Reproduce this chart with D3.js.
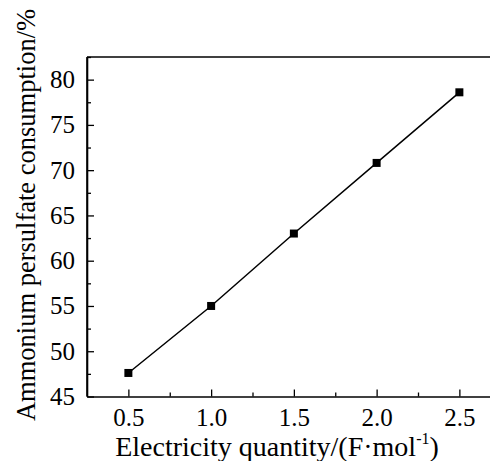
<!DOCTYPE html>
<html>
<head>
<meta charset="utf-8">
<script src="https://cdn.jsdelivr.net/npm/d3@7"></script>
<style>
  body { margin: 0; background: #fff; }
  svg text { font-family: "Liberation Serif", "Times New Roman", serif; fill: #000; }
</style>
</head>
<body>
<div id="chart"></div>
<script>
// data
const electricity = [0.5, 1.0, 1.5, 2.0, 2.5];
const consumption = [47.6, 55.0, 63.0, 70.8, 78.6];
const xTicks = [0.5, 1.0, 1.5, 2.0, 2.5];
const yTicks = [45, 50, 55, 60, 65, 70, 75, 80];

const width = 490, height = 461;
const mLeft = 87, mTop = 57, mBottom = 396.5;
const serif = "Liberation Serif, Times New Roman, serif";

const svg = d3.select("#chart").append("svg")
    .attr("width", width)
    .attr("height", height);

// x axis runs past the right edge of the picture, like the original crop
const x = d3.scaleLinear().domain([0.25, 2.75]).range([mLeft, mLeft + 5 * 82.75]);
const y = d3.scaleLinear().domain([45, 82.5]).range([mBottom, mTop]);

// bottom axis, ticks pointing in
svg.append("g")
    .attr("transform", `translate(0,${mBottom})`)
    .call(d3.axisBottom(x).tickValues(xTicks).tickFormat(d3.format(".1f"))
        .tickSizeInner(-7).tickSizeOuter(0).tickPadding(12));

const xMinor = svg.append("g")
    .attr("transform", `translate(0,${mBottom})`)
    .call(d3.axisBottom(x).tickValues([0.75, 1.25, 1.75, 2.25, 2.75])
        .tickFormat("").tickSizeInner(-4).tickSizeOuter(0));
xMinor.select(".domain").remove();

svg.append("g")
    .attr("transform", `translate(${mLeft},0)`)
    .call(d3.axisLeft(y).tickValues(yTicks)
        .tickSizeInner(-7).tickSizeOuter(0).tickPadding(12));

const yMinor = svg.append("g")
    .attr("transform", `translate(${mLeft},0)`)
    .call(d3.axisLeft(y).tickValues([47.5, 52.5, 57.5, 62.5, 67.5, 72.5, 77.5, 82.5])
        .tickFormat("").tickSizeInner(-4).tickSizeOuter(0));
yMinor.select(".domain").remove();

svg.selectAll("g").attr("font-family", serif).attr("font-size", 25);
svg.selectAll(".domain").attr("stroke", "#000").attr("stroke-width", 1.6);
svg.selectAll(".tick line").attr("stroke", "#000").attr("stroke-width", 1.3);
svg.selectAll(".tick text").attr("fill", "#000");

// top border
svg.append("line")
    .attr("x1", mLeft).attr("x2", width)
    .attr("y1", mTop).attr("y2", mTop)
    .attr("stroke", "#000").attr("stroke-width", 1.6);
svg.append("line")
    .attr("x1", mLeft).attr("x2", mLeft)
    .attr("y1", mTop).attr("y2", mBottom)
    .attr("stroke", "#000").attr("stroke-width", 1.6);

// the series
const pts = electricity.map((e, i) => ({ e, c: consumption[i] }));

svg.append("path")
    .datum(pts)
    .attr("fill", "none")
    .attr("stroke", "#000")
    .attr("stroke-width", 1.5)
    .attr("d", d3.line().x(d => x(d.e)).y(d => y(d.c)));

svg.append("g").selectAll("rect")
    .data(pts)
    .enter().append("rect")
    .attr("x", d => x(d.e) - 4)
    .attr("y", d => y(d.c) - 4)
    .attr("width", 8)
    .attr("height", 8)
    .attr("fill", "#000");

// axis titles
const xTitle = svg.append("text")
    .attr("x", 277)
    .attr("y", 456)
    .attr("text-anchor", "middle")
    .attr("font-family", serif)
    .attr("font-size", 28);
xTitle.append("tspan").text("Electricity quantity/(F·mol");
xTitle.append("tspan").attr("dy", -12).attr("font-size", 16).text("-1");
xTitle.append("tspan").attr("dy", 12).text(")");

svg.append("text")
    .attr("transform", "translate(35,215) rotate(-90)")
    .attr("text-anchor", "middle")
    .attr("font-family", serif)
    .attr("font-size", 26.5)
    .text("Ammonium persulfate consumption/%");
</script>
</body>
</html>
